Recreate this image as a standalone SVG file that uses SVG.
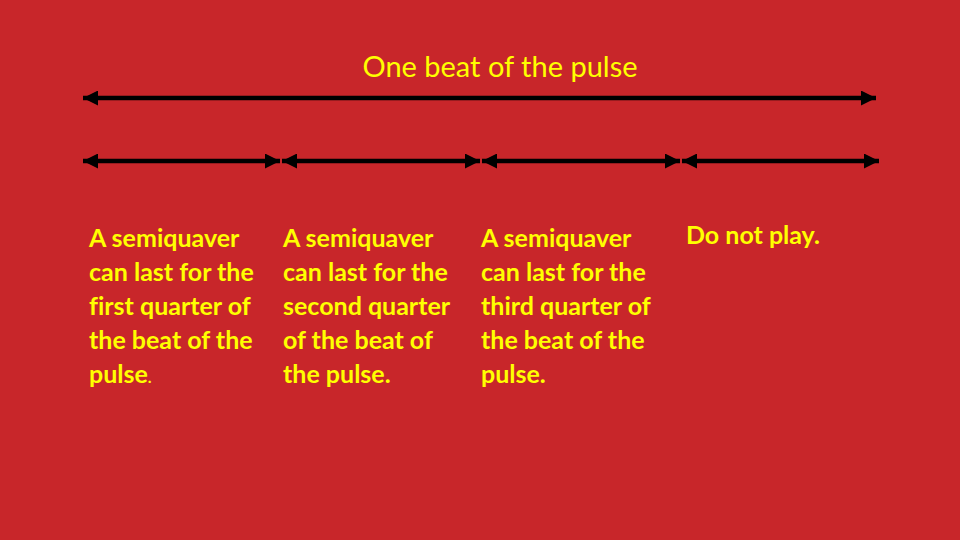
<svg xmlns="http://www.w3.org/2000/svg" width="960" height="540" viewBox="0 0 960 540">
<defs>
<marker id="ah" viewBox="0 0 10 10" refX="10" refY="5" markerWidth="16" markerHeight="15" markerUnits="userSpaceOnUse" orient="auto-start-reverse">
<path d="M0,0 L10,5 L0,10 Z" fill="#000"/>
</marker>
<style>
.ln{stroke:#000;stroke-width:4.5;fill:none;marker-start:url(#ah);marker-end:url(#ah)}
.t{font-family:Lato,"Open Sans","Liberation Sans",sans-serif;fill:#FFFF00;font-variant-ligatures:none}
.b{font-weight:bold;font-size:25px}
.h{font-size:29px}
</style>
</defs>
<rect width="960" height="540" fill="#C8262A"/>
<g id="connectors">
<line class="ln" x1="83" y1="98" x2="876" y2="98"/>
<line class="ln" x1="83" y1="161" x2="280" y2="161"/>
<line class="ln" x1="282" y1="161" x2="480" y2="161"/>
<line class="ln" x1="482" y1="161" x2="680" y2="161"/>
<line class="ln" x1="682" y1="161" x2="879" y2="161"/>
</g>
<g id="title"><text class="t h" x="500" y="77" text-anchor="middle">One beat of the pulse</text></g>
<g id="q1"><text class="t b">
<tspan x="89" y="247">A semiquaver</tspan>
<tspan x="89" y="281">can last for the</tspan>
<tspan x="89" y="315">first quarter of</tspan>
<tspan x="89" y="349">the beat of the</tspan>
<tspan x="89" y="383">pulse<tspan font-size="16">.</tspan></tspan>
</text></g>
<g id="q2"><text class="t b">
<tspan x="283" y="247">A semiquaver</tspan>
<tspan x="283" y="281">can last for the</tspan>
<tspan x="283" y="315">second quarter</tspan>
<tspan x="283" y="349">of the beat of</tspan>
<tspan x="283" y="383">the pulse.</tspan>
</text></g>
<g id="q3"><text class="t b">
<tspan x="481" y="247">A semiquaver</tspan>
<tspan x="481" y="281">can last for the</tspan>
<tspan x="481" y="315">third quarter of</tspan>
<tspan x="481" y="349">the beat of the</tspan>
<tspan x="481" y="383">pulse.</tspan>
</text></g>
<g id="q4"><text class="t b" x="686" y="244">Do not play.</text></g>
</svg>
